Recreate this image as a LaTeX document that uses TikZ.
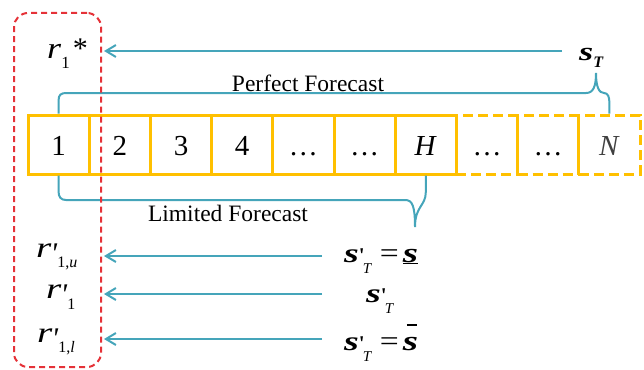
\documentclass[tikz,border=0pt]{standalone}
\usepackage{fontspec}
\usepackage{graphicx}
\setmainfont{Liberation Serif}
\usetikzlibrary{arrows.meta}
\definecolor{tealc}{HTML}{45A5BA}
\definecolor{goldc}{HTML}{FFC000}
\definecolor{redc}{HTML}{E53238}
\newcommand\fs[1]{\fontsize{#1}{#1}\selectfont}
\newcommand\sbi{\scalebox{1.4}[1]{\textbf{\textit{s}}}}
\newcommand\rit{\scalebox{1.35}[1]{\textit{r}}}
\newcommand\eqs{\scalebox{1.2}[1]{=}}
\newcommand\rprime{\raisebox{-6pt}{\fs{30}\textit{\textquotesingle}}}
\newcommand\sprime{\raisebox{0pt}{\fs{21}\textbf{\textquotesingle}}}
\tikzset{
  cellbox/.style={draw=goldc, line width=3pt, minimum width=61.2pt, minimum height=59pt,
    inner sep=0pt, text height=22pt, text depth=0pt, font=\fs{29}},
  celldash/.style={cellbox, dash pattern=on 10pt off 5pt},
  arr/.style={draw=tealc, line width=2pt, -{Straight Barb[length=10pt,width=12pt,line width=2pt]}},
  bracec/.style={draw=tealc, line width=2pt},
  lbl/.style={inner sep=0pt, anchor=base west},
  captext/.style={inner sep=0pt, anchor=base, font=\fs{23.5}},
  grp/.style={draw=redc, line width=2pt, dash pattern=on 6pt off 4pt, rounded corners=14pt,
    minimum width=87pt, minimum height=354pt, inner sep=0pt}
}
\begin{document}
\begin{tikzpicture}[x=1pt,y=-1pt]
\useasboundingbox (0,0) rectangle (644,369);
% cells
\node[celldash] (c8) at (487.0,144.5) {\dots};
\node[celldash] (c9) at (548.2,144.5) {\dots};
\node[celldash] (cN) at (609.4,144.5) {\textcolor{black!75}{\textit{N}}};
\node[cellbox] (c1) at (58.6,144.5) {1};
\node[cellbox] (c2) at (119.8,144.5) {2};
\node[cellbox] (c3) at (181.0,144.5) {3};
\node[cellbox] (c4) at (242.2,144.5) {4};
\node[cellbox] (c5) at (303.4,144.5) {\dots};
\node[cellbox] (c6) at (364.6,144.5) {\dots};
\node[cellbox] (cH) at (425.8,144.5) {\textit{H}};
% braces
\draw[bracec] (c1.north) -- (58.6,100) .. controls (58.6,95) and (61,93) .. (66,93)
  -- (586,93) .. controls (593,93) and (596,87) .. (596,73)
  .. controls (596,87) and (599,93) .. (604,93)
  .. controls (608,93) and (609.4,97) .. (609.4,103) -- (cN.north);
\draw[bracec] (c1.south) -- (58.6,192) .. controls (58.6,197) and (61,200) .. (66,200)
  -- (405,200) .. controls (412,200) and (415,205) .. (415,227)
  .. controls (415,206) and (425.8,206) .. (425.8,192) -- (cH.south);
\node[captext] (pf) at (308,91) {Perfect Forecast};
\node[captext] (lf) at (228,221) {Limited Forecast};
% left labels
\node[lbl] (r1s) at (47,58) {{\fs{30}\scalebox{1.2}[1]{\textit{r}}}\raisebox{-10pt}{\fs{17}1}\hspace{3pt}{\fs{30}*}};
\node[lbl] (r1u) at (36,257) {{\fs{29}\rit}\hspace{-1pt}\rprime\raisebox{-10pt}{\fs{16}1,\textit{u}}};
\node[lbl] (r1m) at (46,298) {{\fs{29}\rit}\hspace{-1pt}\rprime\raisebox{-11pt}{\fs{16}1}};
\node[lbl] (r1l) at (37,342) {{\fs{29}\rit}\hspace{-1pt}\rprime\raisebox{-10pt}{\fs{16}1,\textit{l}}};
% right labels
\node[lbl] (sT) at (579,60) {{\fs{26}\sbi}\raisebox{-7pt}{\fs{16}\textbf{\textit{T}}}};
\node[lbl] (su) at (344,262) {{\fs{27}\sbi}\sprime\hspace{-2pt}\raisebox{-11pt}{\fs{15}\textit{T}}\hspace{8pt}{\fs{28}\eqs\hspace{4pt}\underline{\sbi}}};
\node[lbl] (sm) at (366,302) {{\fs{27}\sbi}\sprime\hspace{-2pt}\raisebox{-11pt}{\fs{15}\textit{T}}};
\node[lbl] (sl) at (344,350) {{\fs{27}\sbi}\sprime\hspace{-2pt}\raisebox{-11pt}{\fs{15}\textit{T}}\hspace{8pt}{\fs{28}\eqs\hspace{4pt}\makebox[0pt][l]{\hspace{4pt}\raisebox{24pt}{\rule{10pt}{1.6pt}}}\sbi}};
% arrows
\coordinate (a0s) at (562,51);  \coordinate (a0e) at (104,51);
\coordinate (a1s) at (322,256); \coordinate (a1e) at (104,256);
\coordinate (a2s) at (322,294); \coordinate (a2e) at (104,294);
\coordinate (a3s) at (322,339); \coordinate (a3e) at (104,339);
\draw[arr] (a0s) -- (a0e);
\draw[arr] (a1s) -- (a1e);
\draw[arr] (a2s) -- (a2e);
\draw[arr] (a3s) -- (a3e);
% group
\node[grp] (grp) at (57.5,190) {};
\end{tikzpicture}
\end{document}
